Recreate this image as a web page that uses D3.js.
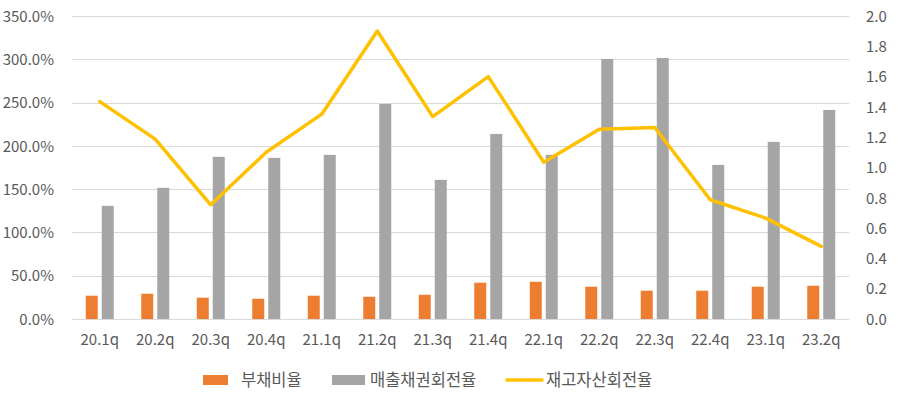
<!DOCTYPE html>
<html>
<head>
<meta charset="utf-8">
<script src="https://cdn.jsdelivr.net/npm/d3@7"></script>
<style>
  body { margin: 0; background: #fff; }
  svg text { font-family: "Malgun Gothic", "Noto Sans CJK KR", sans-serif; fill: #595959; }
</style>
</head>
<body>
<svg></svg>
<script>
var quarters = ['20.1q','20.2q','20.3q','20.4q','21.1q','21.2q','21.3q','21.4q','22.1q','22.2q','22.3q','22.4q','23.1q','23.2q'];
// 부채비율 (%)
var debtRatio = [26.9, 29.2, 24.6, 23.4, 26.9, 25.7, 28.0, 41.9, 43.0, 37.3, 32.7, 32.7, 37.3, 38.4];
// 매출채권회전율 (%)
var arTurnover = [130.7, 151.5, 187.3, 186.1, 189.6, 248.4, 160.7, 213.8, 189.6, 300.4, 301.5, 178.0, 204.6, 241.5];
// 재고자산회전율 (right axis)
var invTurnover = [1.435, 1.187, 0.754, 1.101, 1.352, 1.901, 1.336, 1.600, 1.035, 1.253, 1.264, 0.787, 0.666, 0.479];
var leftTicks = [0, 50, 100, 150, 200, 250, 300, 350];
var rightTicks = [0, 0.2, 0.4, 0.6, 0.8, 1.0, 1.2, 1.4, 1.6, 1.8, 2.0];
var seriesNames = ['부채비율', '매출채권회전율', '재고자산회전율'];

var width = 898, height = 396;
var padding = { top: 16, bottom: 77, left: 72, right: 49 };

var color = { debt: '#ED7D31', ar: '#A5A5A5', inv: '#FFC000' };

var svg = d3.select('svg')
            .attr('width', width)
            .attr('height', height);

var xScale = d3.scaleBand()
               .domain(quarters)
               .range([padding.left, width - padding.right]);

var subScale = d3.scaleBand()
                 .domain(['debt', 'ar'])
                 .range([-14, 14])
                 .paddingInner(0.25);

var yLeft = d3.scaleLinear()
              .domain([0, 350])
              .range([height - padding.bottom, padding.top]);

var yRight = d3.scaleLinear()
               .domain([0, 2])
               .range([height - padding.bottom, padding.top]);

// gridlines
svg.append('g')
   .selectAll('line')
   .data(leftTicks)
   .enter()
   .append('line')
   .attr('x1', padding.left)
   .attr('x2', width - padding.right)
   .attr('y1', d => Math.round(yLeft(d)) + 0.5)
   .attr('y2', d => Math.round(yLeft(d)) + 0.5)
   .attr('stroke', '#D9D9D9')
   .attr('stroke-width', 1);

// left axis
var leftAxis = svg.append('g')
   .attr('transform', 'translate(' + (padding.left - 18) + ',0)')
   .call(d3.axisLeft(yLeft).tickValues(leftTicks).tickSize(0).tickPadding(0).tickFormat(d => d.toFixed(1) + '%'));
leftAxis.select('.domain').remove();
leftAxis.selectAll('text').style('font-size', '15px').attr('dy', '0.35em');

// right axis
var rightAxis = svg.append('g')
   .attr('transform', 'translate(' + (width - padding.right + 17) + ',0)')
   .call(d3.axisRight(yRight).tickValues(rightTicks).tickSize(0).tickPadding(0).tickFormat(d3.format('.1f')));
rightAxis.select('.domain').remove();
rightAxis.selectAll('text').style('font-size', '15px').attr('dy', '0.35em');

// x axis labels
var xAxis = svg.append('g')
   .attr('transform', 'translate(0,' + (height - padding.bottom) + ')')
   .call(d3.axisBottom(xScale).tickSize(0).tickPadding(15));
xAxis.select('.domain').remove();
xAxis.selectAll('text').style('font-size', '15px');

// bars
var groups = svg.append('g')
   .selectAll('g')
   .data(quarters)
   .enter()
   .append('g')
   .attr('transform', d => 'translate(' + (xScale(d) + xScale.bandwidth() / 2) + ',0)');

groups.append('rect')
   .attr('x', subScale('debt'))
   .attr('width', subScale.bandwidth())
   .attr('y', (d, i) => yLeft(debtRatio[i]))
   .attr('height', (d, i) => yLeft(0) - yLeft(debtRatio[i]))
   .attr('fill', color.debt);

groups.append('rect')
   .attr('x', subScale('ar'))
   .attr('width', subScale.bandwidth())
   .attr('y', (d, i) => yLeft(arTurnover[i]))
   .attr('height', (d, i) => yLeft(0) - yLeft(arTurnover[i]))
   .attr('fill', color.ar);

// line
var line = d3.line()
   .x((d, i) => xScale(quarters[i]) + xScale.bandwidth() / 2)
   .y(d => yRight(d));

svg.append('path')
   .datum(invTurnover)
   .attr('d', line)
   .attr('fill', 'none')
   .attr('stroke', color.inv)
   .attr('stroke-width', 3.5)
   .attr('stroke-linejoin', 'round')
   .attr('stroke-linecap', 'round');

// legend
var legend = svg.append('g');
var legendY = 380;

legend.append('rect')
   .attr('x', 203).attr('y', legendY - 5).attr('width', 25).attr('height', 10)
   .attr('fill', color.debt);
legend.append('text')
   .attr('x', 241).attr('y', legendY).attr('dy', '0.35em')
   .style('font-size', '16.5px').text(seriesNames[0]);

legend.append('rect')
   .attr('x', 332).attr('y', legendY - 5).attr('width', 33).attr('height', 10)
   .attr('fill', color.ar);
legend.append('text')
   .attr('x', 370).attr('y', legendY).attr('dy', '0.35em')
   .style('font-size', '16.5px').text(seriesNames[1]);

legend.append('line')
   .attr('x1', 507).attr('x2', 542).attr('y1', legendY).attr('y2', legendY)
   .attr('stroke', color.inv).attr('stroke-width', 3.5).attr('stroke-linecap', 'round');
legend.append('text')
   .attr('x', 546).attr('y', legendY).attr('dy', '0.35em')
   .style('font-size', '16.5px').text(seriesNames[2]);
</script>
</body>
</html>
